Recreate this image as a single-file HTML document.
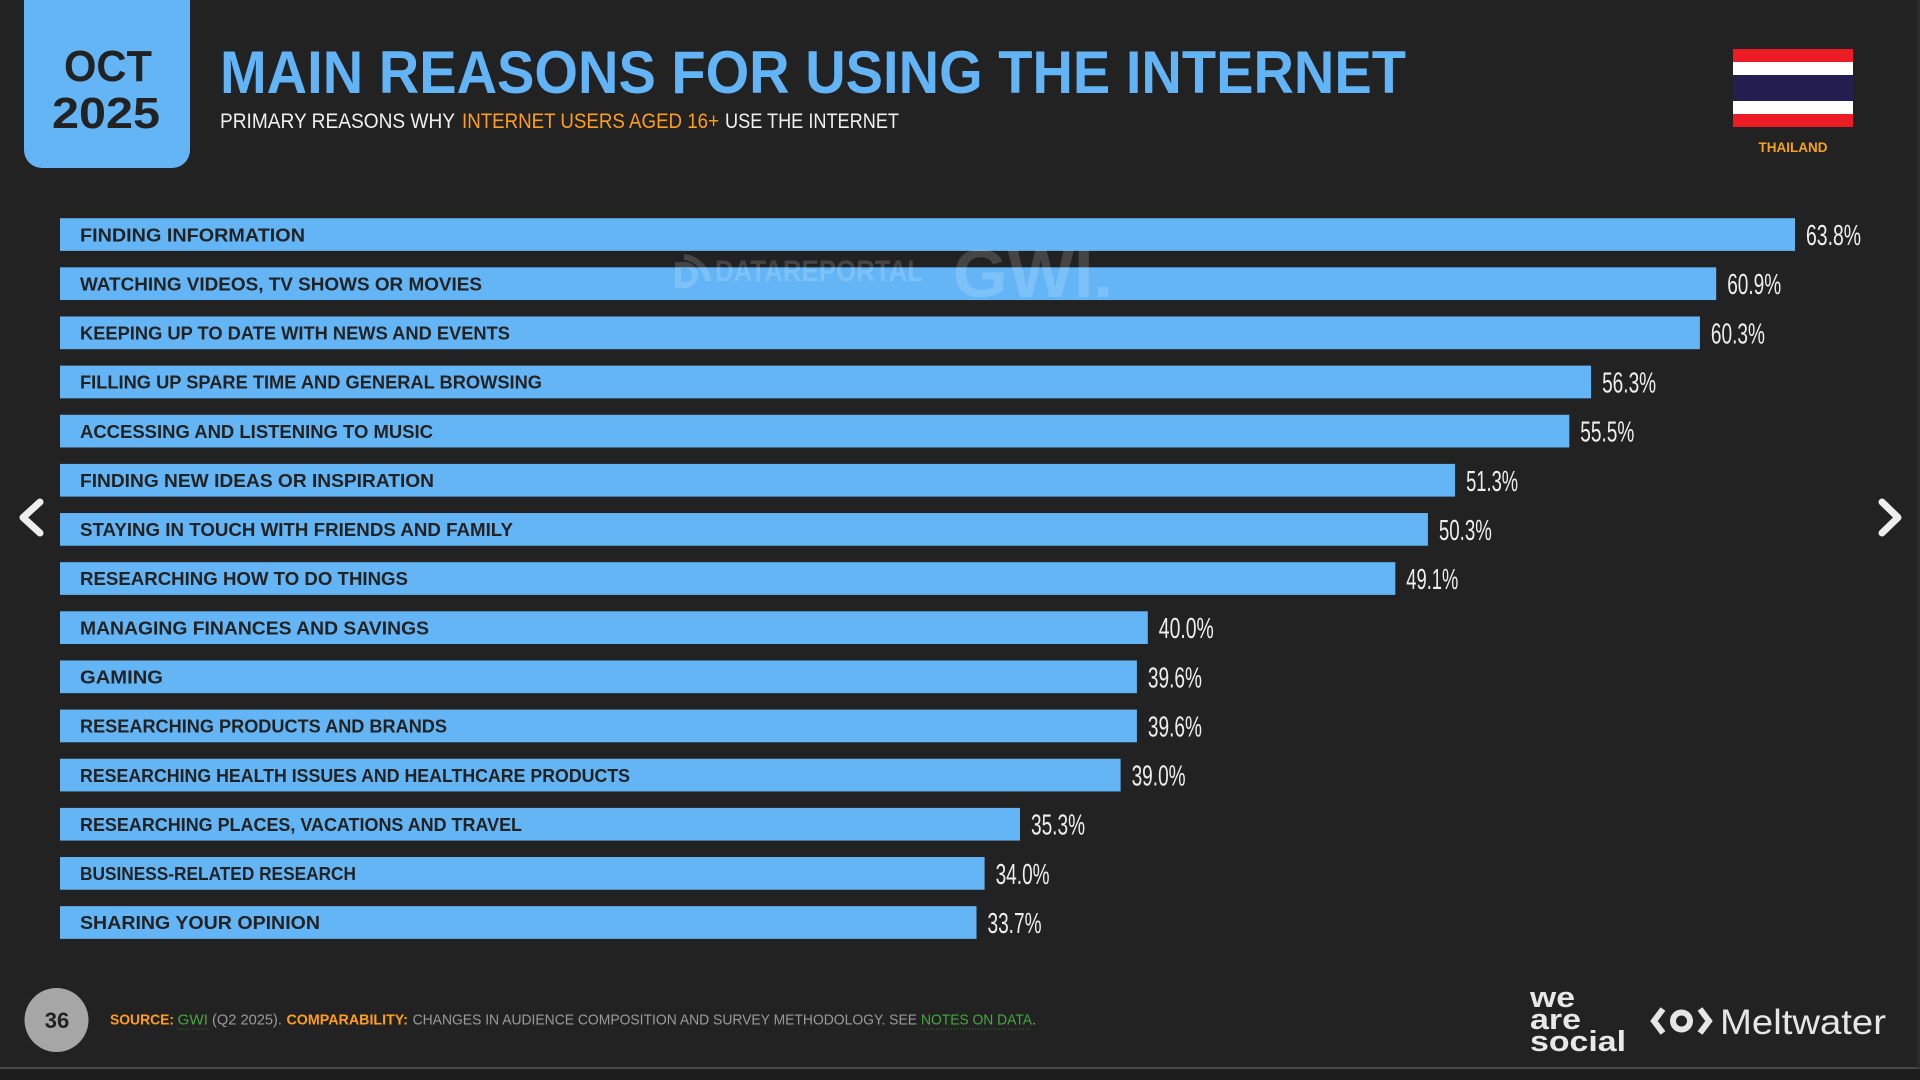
<!DOCTYPE html>
<html>
<head>
<meta charset="utf-8">
<style>
html,body{margin:0;padding:0;background:#222;}
body{width:1920px;height:1080px;overflow:hidden;}
svg{display:block;}
text{font-family:"Liberation Sans",Arial,sans-serif;}
</style>
</head>
<body>
<svg width="1920" height="1080" viewBox="0 0 1920 1080" xmlns="http://www.w3.org/2000/svg">
<rect x="0" y="0" width="1920" height="1080" fill="#222222"/>
<rect x="0" y="1069" width="1920" height="11" fill="#1d1d1d"/>
<line x1="0" y1="1068" x2="1920" y2="1068" stroke="#4a4a4a" stroke-width="2"/>
<rect x="1917" y="0" width="3" height="1068" fill="#2c2c2c"/>

<!-- Date box -->
<rect x="24" y="-30" width="166" height="198" rx="18" fill="#64b5f6"/>
<text x="108" y="81" font-size="44" font-weight="bold" fill="#222" text-anchor="middle" textLength="88" lengthAdjust="spacingAndGlyphs">OCT</text>
<text x="106" y="128" font-size="44" font-weight="bold" fill="#222" text-anchor="middle" textLength="108" lengthAdjust="spacingAndGlyphs">2025</text>

<!-- Title -->
<text x="220" y="93" font-size="60" font-weight="bold" fill="#63b4f6" textLength="1186" lengthAdjust="spacingAndGlyphs">MAIN REASONS FOR USING THE INTERNET</text>
<text x="220" y="128" font-size="21" fill="#f0f0f0" textLength="235" lengthAdjust="spacingAndGlyphs">PRIMARY REASONS WHY</text>
<text x="462" y="128" font-size="21" fill="#ff9e1b" textLength="257" lengthAdjust="spacingAndGlyphs">INTERNET USERS AGED 16+</text>
<text x="725" y="128" font-size="21" fill="#f0f0f0" textLength="174" lengthAdjust="spacingAndGlyphs">USE THE INTERNET</text>

<!-- Flag -->
<rect x="1733" y="49" width="120" height="13" fill="#ed1c24"/>
<rect x="1733" y="62" width="120" height="13" fill="#ffffff"/>
<rect x="1733" y="75" width="120" height="26" fill="#241d4f"/>
<rect x="1733" y="101" width="120" height="13" fill="#ffffff"/>
<rect x="1733" y="114" width="120" height="13" fill="#ed1c24"/>
<text x="1793" y="152" font-size="14" font-weight="bold" fill="#f7a21b" text-anchor="middle" textLength="69" lengthAdjust="spacingAndGlyphs">THAILAND</text>

<!-- Bars -->
<g fill="#64b5f6">
<rect x="60" y="218.2" width="1735.0" height="32.7"/>
<rect x="60" y="267.34" width="1656.2" height="32.7"/>
<rect x="60" y="316.48" width="1639.9" height="32.7"/>
<rect x="60" y="365.62" width="1531.1" height="32.7"/>
<rect x="60" y="414.76" width="1509.3" height="32.7"/>
<rect x="60" y="463.9" width="1395.1" height="32.7"/>
<rect x="60" y="513.04" width="1367.9" height="32.7"/>
<rect x="60" y="562.18" width="1335.3" height="32.7"/>
<rect x="60" y="611.32" width="1087.8" height="32.7"/>
<rect x="60" y="660.46" width="1076.9" height="32.7"/>
<rect x="60" y="709.6" width="1076.9" height="32.7"/>
<rect x="60" y="758.74" width="1060.6" height="32.7"/>
<rect x="60" y="807.88" width="960.0" height="32.7"/>
<rect x="60" y="857.02" width="924.6" height="32.7"/>
<rect x="60" y="906.16" width="916.5" height="32.7"/>
</g>

<!-- Bar labels -->
<g font-size="18.5" font-weight="bold" fill="#222">
<text x="80" y="241.3" textLength="225" lengthAdjust="spacingAndGlyphs">FINDING INFORMATION</text>
<text x="80" y="290.4" textLength="402" lengthAdjust="spacingAndGlyphs">WATCHING VIDEOS, TV SHOWS OR MOVIES</text>
<text x="80" y="339.5" textLength="430" lengthAdjust="spacingAndGlyphs">KEEPING UP TO DATE WITH NEWS AND EVENTS</text>
<text x="80" y="388.7" textLength="462" lengthAdjust="spacingAndGlyphs">FILLING UP SPARE TIME AND GENERAL BROWSING</text>
<text x="80" y="437.8" textLength="353" lengthAdjust="spacingAndGlyphs">ACCESSING AND LISTENING TO MUSIC</text>
<text x="80" y="487.0" textLength="354" lengthAdjust="spacingAndGlyphs">FINDING NEW IDEAS OR INSPIRATION</text>
<text x="80" y="536.1" textLength="433" lengthAdjust="spacingAndGlyphs">STAYING IN TOUCH WITH FRIENDS AND FAMILY</text>
<text x="80" y="585.2" textLength="328" lengthAdjust="spacingAndGlyphs">RESEARCHING HOW TO DO THINGS</text>
<text x="80" y="634.4" textLength="349" lengthAdjust="spacingAndGlyphs">MANAGING FINANCES AND SAVINGS</text>
<text x="80" y="683.5" textLength="83" lengthAdjust="spacingAndGlyphs">GAMING</text>
<text x="80" y="732.7" textLength="367" lengthAdjust="spacingAndGlyphs">RESEARCHING PRODUCTS AND BRANDS</text>
<text x="80" y="781.8" textLength="550" lengthAdjust="spacingAndGlyphs">RESEARCHING HEALTH ISSUES AND HEALTHCARE PRODUCTS</text>
<text x="80" y="830.9" textLength="442" lengthAdjust="spacingAndGlyphs">RESEARCHING PLACES, VACATIONS AND TRAVEL</text>
<text x="80" y="880.1" textLength="276" lengthAdjust="spacingAndGlyphs">BUSINESS-RELATED RESEARCH</text>
<text x="80" y="929.2" textLength="240" lengthAdjust="spacingAndGlyphs">SHARING YOUR OPINION</text>
</g>

<!-- Values -->
<g font-size="29" fill="#eeeeee">
<text x="1806.0" y="245.0" textLength="55" lengthAdjust="spacingAndGlyphs">63.8%</text>
<text x="1727.2" y="294.2" textLength="54" lengthAdjust="spacingAndGlyphs">60.9%</text>
<text x="1710.9" y="343.3" textLength="54" lengthAdjust="spacingAndGlyphs">60.3%</text>
<text x="1602.1" y="392.5" textLength="54" lengthAdjust="spacingAndGlyphs">56.3%</text>
<text x="1580.3" y="441.6" textLength="54" lengthAdjust="spacingAndGlyphs">55.5%</text>
<text x="1466.1" y="490.8" textLength="52" lengthAdjust="spacingAndGlyphs">51.3%</text>
<text x="1438.9" y="539.9" textLength="53" lengthAdjust="spacingAndGlyphs">50.3%</text>
<text x="1406.3" y="589.0" textLength="52" lengthAdjust="spacingAndGlyphs">49.1%</text>
<text x="1158.8" y="638.2" textLength="55" lengthAdjust="spacingAndGlyphs">40.0%</text>
<text x="1147.9" y="687.3" textLength="54" lengthAdjust="spacingAndGlyphs">39.6%</text>
<text x="1147.9" y="736.5" textLength="54" lengthAdjust="spacingAndGlyphs">39.6%</text>
<text x="1131.6" y="785.6" textLength="54" lengthAdjust="spacingAndGlyphs">39.0%</text>
<text x="1031.0" y="834.7" textLength="54" lengthAdjust="spacingAndGlyphs">35.3%</text>
<text x="995.6" y="883.9" textLength="54" lengthAdjust="spacingAndGlyphs">34.0%</text>
<text x="987.5" y="933.0" textLength="54" lengthAdjust="spacingAndGlyphs">33.7%</text>
</g>

<!-- Watermark -->
<g fill="#ffffff" fill-opacity="0.16">
<path d="M675 262 h10 a13 13 0 0 1 0 26 h-10 z M681 268 v14 h4 a7 7 0 0 0 0 -14 z"/>
<path d="M684 254 a30 30 0 0 1 27 27 h-6 a24 24 0 0 0 -21 -21 z"/>
<text x="715" y="281" font-size="30" font-weight="bold" textLength="208" lengthAdjust="spacingAndGlyphs">DATAREPORTAL</text>
<text x="953" y="297" font-size="68" font-weight="bold" textLength="160" lengthAdjust="spacingAndGlyphs">GWI.</text>
</g>

<!-- Arrows -->
<polyline points="40,502 23,517.5 40,533" fill="none" stroke="#eeeeee" stroke-width="7" stroke-linecap="round" stroke-linejoin="round"/>
<polyline points="1882,502 1898,517.5 1882,533" fill="none" stroke="#eeeeee" stroke-width="7" stroke-linecap="round" stroke-linejoin="round"/>

<!-- Footer -->
<circle cx="56.5" cy="1020" r="32" fill="#a6a6a6"/>
<text x="57" y="1028" font-size="22" font-weight="bold" fill="#222" text-anchor="middle">36</text>
<g font-size="15">
<text x="110" y="1024.5" font-weight="bold" fill="#ff9e1b" textLength="64" lengthAdjust="spacingAndGlyphs">SOURCE:</text>
<text x="177.5" y="1024.5" fill="#46a83e" textLength="30.5" lengthAdjust="spacingAndGlyphs">GWI</text>
<text x="212" y="1024.5" fill="#9a9a9a" textLength="70" lengthAdjust="spacingAndGlyphs">(Q2 2025).</text>
<text x="286.5" y="1024.5" font-weight="bold" fill="#ff9e1b" textLength="121.5" lengthAdjust="spacingAndGlyphs">COMPARABILITY:</text>
<text x="412.6" y="1024.5" fill="#9a9a9a" textLength="504.4" lengthAdjust="spacingAndGlyphs">CHANGES IN AUDIENCE COMPOSITION AND SURVEY METHODOLOGY. SEE</text>
<text x="921" y="1024.5" fill="#46a83e" textLength="111" lengthAdjust="spacingAndGlyphs">NOTES ON DATA</text>
<text x="1032" y="1024.5" fill="#9a9a9a">.</text>
</g>
<line x1="177.5" y1="1029" x2="208" y2="1029" stroke="#46a83e" stroke-width="1" stroke-dasharray="1,2" stroke-opacity="0.6"/>
<line x1="921" y1="1029" x2="1032" y2="1029" stroke="#46a83e" stroke-width="1" stroke-dasharray="1,2" stroke-opacity="0.6"/>

<!-- we are social -->
<g font-size="29" font-weight="bold" fill="#e8e8e8">
<text x="1530" y="1007" textLength="45" lengthAdjust="spacingAndGlyphs">we</text>
<text x="1530" y="1029" textLength="51" lengthAdjust="spacingAndGlyphs">are</text>
<text x="1530" y="1051" textLength="96" lengthAdjust="spacingAndGlyphs">social</text>
</g>

<!-- Meltwater -->
<g fill="none" stroke="#e6e6e6" stroke-width="6" stroke-linejoin="miter">
<polyline points="1663,1009 1654,1021 1663,1033"/>
<circle cx="1681.5" cy="1021" r="8.5"/>
<polyline points="1700,1009 1709,1021 1700,1033"/>
</g>
<text x="1720" y="1034" font-size="35" fill="#e6e6e6" textLength="166" lengthAdjust="spacingAndGlyphs">Meltwater</text>
</svg>
</body>
</html>
